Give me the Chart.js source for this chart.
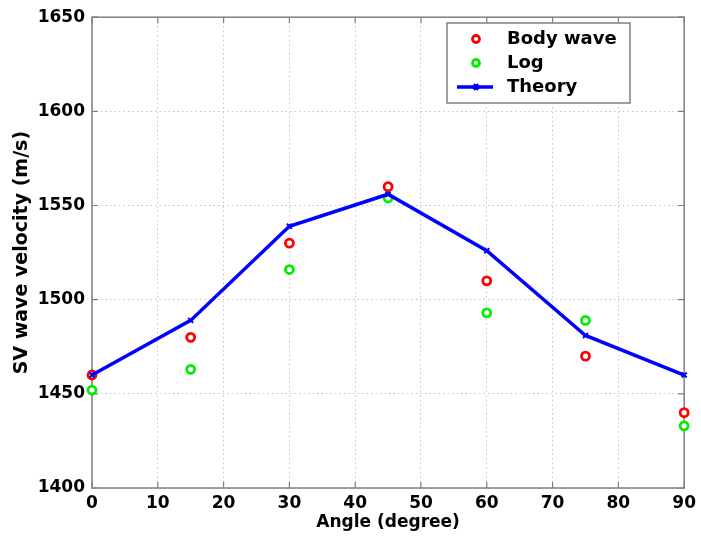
<!DOCTYPE html>
<html>
<head>
<meta charset="utf-8">
<script src="https://cdn.jsdelivr.net/npm/chart.js@4/dist/chart.umd.min.js"></script>
<style>
  html, body { margin: 0; padding: 0; background: #fff; }
  #wrap { width: 701px; height: 544px; }
</style>
</head>
<body>
<div id="wrap"><canvas id="c" width="701" height="544"></canvas></div>
<script>
// Propagation angle (degrees)
const angles = [0, 15, 30, 45, 60, 75, 90];
// SV wave velocity (m/s)
const bodyWave = [1460, 1480, 1530, 1560, 1510, 1470, 1440];
const logData  = [1452, 1463, 1516, 1554, 1493, 1489, 1433];
const theory   = [1460, 1489, 1539, 1556, 1526, 1481, 1460];

const xTicks = [0, 10, 20, 30, 40, 50, 60, 70, 80, 90];
const yTicks = [1400, 1450, 1500, 1550, 1600, 1650];

const FONT = { family: '"DejaVu Sans", sans-serif', size: 17, weight: 'bold' };

const pts = arr => angles.map((a, i) => ({ x: a, y: arr[i] }));

// Box around the axes with inward tick marks on all four sides
const framePlugin = {
  id: 'frame',
  beforeDatasetsDraw(chart) {
    const { ctx, chartArea: a, scales } = chart;
    ctx.save();
    ctx.strokeStyle = '#808080';
    ctx.lineWidth = 1.5;
    ctx.strokeRect(a.left, a.top, a.right - a.left, a.bottom - a.top);
    ctx.lineWidth = 1.2;
    const tl = 6;
    ctx.beginPath();
    xTicks.forEach(v => {
      const x = scales.x.getPixelForValue(v);
      ctx.moveTo(x, a.bottom); ctx.lineTo(x, a.bottom - tl);
      ctx.moveTo(x, a.top); ctx.lineTo(x, a.top + tl);
    });
    yTicks.forEach(v => {
      const y = scales.y.getPixelForValue(v);
      ctx.moveTo(a.left, y); ctx.lineTo(a.left + tl, y);
      ctx.moveTo(a.right, y); ctx.lineTo(a.right - tl, y);
    });
    ctx.stroke();
    ctx.restore();
  }
};

// Legend box in the upper right of the axes
const legendPlugin = {
  id: 'boxLegend',
  afterDraw(chart) {
    const { ctx } = chart;
    const box = { x: 447, y: 23, w: 183, h: 80 };
    ctx.save();
    ctx.fillStyle = '#fff';
    ctx.fillRect(box.x, box.y, box.w, box.h);
    ctx.strokeStyle = '#808080';
    ctx.lineWidth = 1.5;
    ctx.strokeRect(box.x, box.y, box.w, box.h);
    const rows = [39, 63, 87];
    const mx = 476;
    chart.data.datasets.forEach((ds, i) => {
      const y = rows[i];
      if (ds.showLine) {
        ctx.strokeStyle = ds.borderColor;
        ctx.lineWidth = ds.borderWidth;
        ctx.beginPath(); ctx.moveTo(457, y); ctx.lineTo(493, y); ctx.stroke();
        Chart.helpers.drawPoint(ctx, { pointStyle: ds.pointStyle, radius: ds.pointRadius, borderWidth: 2 }, mx, y);
      } else {
        ctx.strokeStyle = ds.pointBorderColor;
        ctx.fillStyle = '#fff';
        ctx.lineWidth = ds.pointBorderWidth;
        ctx.beginPath(); ctx.arc(mx, y, ds.pointRadius - 0.5, 0, Math.PI * 2); ctx.fill(); ctx.stroke();
      }
      ctx.fillStyle = '#000';
      ctx.font = 'bold 18px "DejaVu Sans", sans-serif';
      ctx.textBaseline = 'middle';
      ctx.textAlign = 'left';
      ctx.fillText(ds.label, 507, y);
    });
    ctx.restore();
  }
};

new Chart(document.getElementById('c'), {
  type: 'scatter',
  data: {
    datasets: [
      {
        label: 'Body wave', data: pts(bodyWave), showLine: false, order: 1,
        pointStyle: 'circle', pointRadius: 4, pointBorderWidth: 2.8,
        pointBorderColor: '#ff0000', pointBackgroundColor: '#ffffff', clip: 10
      },
      {
        label: 'Log', data: pts(logData), showLine: false, order: 2,
        pointStyle: 'circle', pointRadius: 4, pointBorderWidth: 2.8,
        pointBorderColor: '#00ee00', pointBackgroundColor: '#ffffff', clip: 10
      },
      {
        label: 'Theory', data: pts(theory), showLine: true, order: 0,
        borderColor: '#0000ff', borderWidth: 3.5, tension: 0,
        pointStyle: 'crossRot', pointRadius: 3.5, pointBorderWidth: 2,
        pointBorderColor: '#0000ff', pointBackgroundColor: '#0000ff', clip: 10
      }
    ]
  },
  options: {
    responsive: false,
    animation: false,
    layout: { padding: { left: 0, top: 16, right: 13, bottom: 0 } },
    plugins: { legend: { display: false }, tooltip: { enabled: false } },
    scales: {
      x: {
        type: 'linear', min: 0, max: 90,
        afterFit(s) { s.height = 56; },
        afterBuildTicks(s) { s.ticks = xTicks.map(v => ({ value: v })); },
        grid: { color: '#c4c4c4', lineWidth: 1, drawTicks: false },
        border: { display: false, dash: [1.5, 3] },
        ticks: { color: '#000', font: FONT, padding: 5, maxRotation: 0, callback: v => String(v) },
        title: { display: true, text: 'Angle (degree)', color: '#000', font: FONT, padding: { top: 0, bottom: 11 } }
      },
      y: {
        type: 'linear', min: 1400, max: 1650,
        afterFit(s) { s.width = 92; },
        afterBuildTicks(s) { s.ticks = yTicks.map(v => ({ value: v })); },
        grid: { color: '#c4c4c4', lineWidth: 1, drawTicks: false },
        border: { display: false, dash: [1.5, 3] },
        ticks: { color: '#000', font: FONT, padding: 7, callback: v => String(v) },
        title: { display: true, text: 'SV wave velocity (m/s)', color: '#000',
                 font: { family: '"DejaVu Sans", sans-serif', size: 19, weight: 'bold' },
                 padding: { top: 11, bottom: 0 } }
      }
    }
  },
  plugins: [framePlugin, legendPlugin]
});
</script>
</body>
</html>
